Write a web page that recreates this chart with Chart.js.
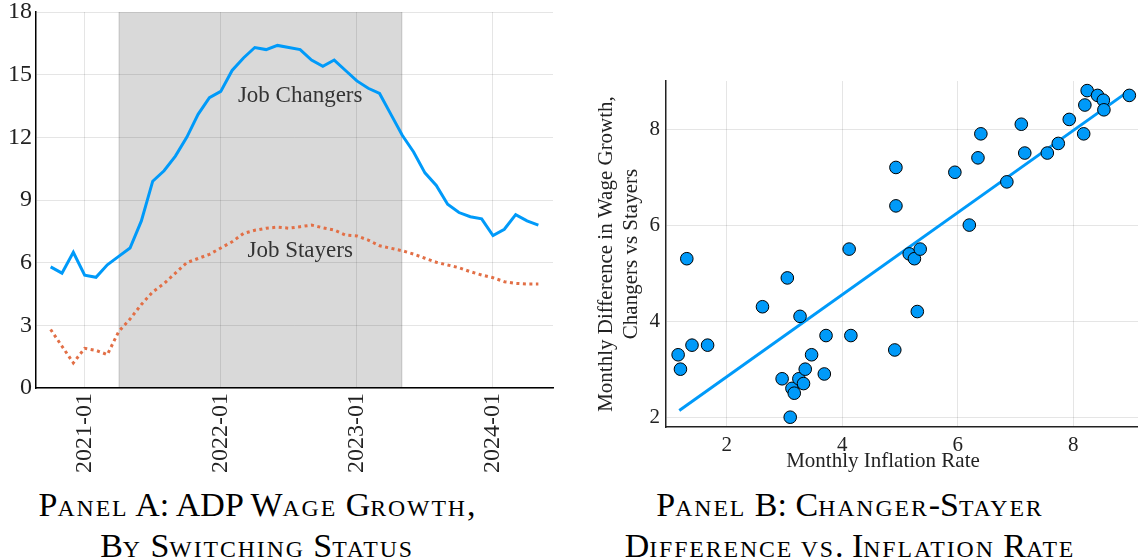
<!DOCTYPE html>
<html><head><meta charset="utf-8">
<script src="https://cdn.jsdelivr.net/npm/chart.js@4.4.1/dist/chart.umd.min.js"></script>
<style>
html,body{margin:0;padding:0;background:#fff;width:1138px;height:560px;overflow:hidden;}
body{position:relative;}
canvas{position:absolute;top:0;}
#cA{left:0;}
#cB{left:580px;}
.cap{position:absolute;font-family:"Liberation Serif",serif;font-size:34px;line-height:38px;text-align:center;color:#000;top:486px;white-space:nowrap;}
.sc{font-size:0.7em;text-transform:uppercase;letter-spacing:1.9px;}
#capA{left:0;width:514px;}
#capB{left:580px;width:540px;}
#xtB{position:absolute;left:683px;width:400px;top:447px;font-family:"Liberation Serif",serif;font-size:21px;line-height:26px;text-align:center;color:#222;white-space:nowrap;}
</style></head>
<body>
<canvas id="cA" width="570" height="480"></canvas>
<canvas id="cB" width="558" height="480"></canvas>
<div id="capA" class="cap">P<span class="sc">anel</span> A: ADP W<span class="sc">age</span> G<span class="sc">rowth</span>,<br>B<span class="sc">y</span> S<span class="sc">witching</span> S<span class="sc">tatus</span></div>
<div id="xtB">Monthly Inflation Rate</div>
<div id="capB" class="cap">P<span class="sc">anel</span> B: C<span class="sc">hanger</span>-S<span class="sc">tayer</span><br>D<span class="sc">ifference vs</span>. I<span class="sc">nflation</span> R<span class="sc">ate</span></div>
<script>
// ---------- Panel A data ----------
const months = ["2020-10","2020-11","2020-12",
 "2021-01","2021-02","2021-03","2021-04","2021-05","2021-06","2021-07","2021-08","2021-09","2021-10","2021-11","2021-12",
 "2022-01","2022-02","2022-03","2022-04","2022-05","2022-06","2022-07","2022-08","2022-09","2022-10","2022-11","2022-12",
 "2023-01","2023-02","2023-03","2023-04","2023-05","2023-06","2023-07","2023-08","2023-09","2023-10","2023-11","2023-12",
 "2024-01","2024-02","2024-03","2024-04","2024-05"];
const jobChangers = [5.8,5.5,6.5,
 5.4,5.3,5.9,6.3,6.7,8.0,9.9,10.4,11.1,12.0,13.1,13.9,
 14.2,15.2,15.8,16.3,16.2,16.4,16.3,16.2,15.7,15.4,15.7,15.2,
 14.7,14.35,14.1,13.1,12.1,11.3,10.3,9.7,8.8,8.4,8.2,8.1,
 7.3,7.6,8.3,8.0,7.8];
const jobStayers = [2.8,2.0,1.2,
 1.9,1.8,1.6,2.7,3.3,4.0,4.6,5.0,5.5,6.0,6.2,6.4,
 6.7,7.0,7.4,7.55,7.65,7.7,7.65,7.72,7.8,7.67,7.56,7.32,
 7.28,7.08,6.81,6.69,6.57,6.41,6.21,6.02,5.89,5.76,5.57,5.41,
 5.28,5.09,5.01,4.98,4.98];
const seriesNames = ["Job Changers","Job Stayers"];
const yTicksA = [0,3,6,9,12,15,18];
const xTickLabelsA = ["2021-01","2022-01","2023-01","2024-01"];
const shadedPeriod = ["2021-04","2023-05"];

// ---------- Panel B data ----------
const inflationRate = [1.16,1.20,1.31,1.40,1.67,2.62,2.96,3.05,3.10,3.13,3.17,3.25,3.27,3.33,3.36,3.47,3.69,3.72,4.12,4.15,
 4.93,4.93,4.91,5.16,5.25,5.35,5.30,5.95,6.20,6.35,6.40,6.85,7.10,7.16,7.55,7.74,7.93,8.18,8.20,8.24,8.42,8.52,8.53,8.97];
const wageDiff = [3.3,3.0,5.3,3.5,3.5,4.3,2.8,4.9,2.0,2.6,2.5,2.8,4.1,2.7,3.0,3.3,2.9,3.7,5.5,3.7,
 7.2,6.4,3.4,5.4,5.3,5.5,4.2,7.1,6.0,7.4,7.9,6.9,8.1,7.5,7.5,7.7,8.2,7.9,8.5,8.8,8.7,8.6,8.4,8.7];
const fitInflation = [1.18, 8.97];
const fitWageDiff = [2.14, 8.80];
const xTicksB = [2,4,6,8];
const yTicksB = [2,4,6,8];
const yTitleB = ["Monthly Difference in Wage Growth,","Changers vs Stayers"];

// ---------- helpers ----------
const monthIndex = s => (parseInt(s.slice(0,4),10)-2021)*12 + parseInt(s.slice(5),10) - 1;
const BLUE = '#009AF9', ORANGE = '#E26F46', GRID = 'rgba(0,0,0,0.1)';
Chart.defaults.font.family = '"Liberation Serif", serif';
Chart.defaults.color = '#222';
const noPadX = (s, h) => { s.height = h; s.paddingLeft = 0; s.paddingRight = 0; s.paddingTop = 0; s.paddingBottom = 0; };
const noPadY = (s, w) => { s.width = w; s.paddingLeft = 0; s.paddingRight = 0; s.paddingTop = 0; s.paddingBottom = 0; };

// ---------- Panel A ----------
const shadePlugin = {
  id: 'shade',
  beforeDatasetsDraw(chart) {
    const {ctx, chartArea:{top,bottom}, scales:{x}} = chart;
    const x1 = x.getPixelForValue(monthIndex(shadedPeriod[0]));
    const x2 = x.getPixelForValue(monthIndex(shadedPeriod[1]));
    ctx.save();
    ctx.fillStyle = 'rgba(0,0,0,0.15)';
    ctx.fillRect(x1, top, x2-x1, bottom-top);
    ctx.strokeStyle = 'rgba(0,0,0,0.12)';
    ctx.lineWidth = 1;
    ctx.beginPath();
    ctx.moveTo(x1+0.5, top); ctx.lineTo(x1+0.5, bottom);
    ctx.moveTo(x2-0.5, top); ctx.lineTo(x2-0.5, bottom);
    ctx.stroke();
    ctx.restore();
  }
};
const seriesLabelAnchors = [["2022-08",14.0],["2022-08",6.55]];
const labelPlugin = {
  id: 'seriesLabels',
  afterDatasetsDraw(chart) {
    const {ctx, scales:{x,y}} = chart;
    ctx.save();
    ctx.font = '23px "Liberation Serif", serif';
    ctx.fillStyle = '#333';
    ctx.textAlign = 'center';
    ctx.textBaseline = 'middle';
    seriesNames.forEach((n,i) => {
      const a = seriesLabelAnchors[i];
      ctx.fillText(n, x.getPixelForValue(monthIndex(a[0])), y.getPixelForValue(a[1]));
    });
    ctx.restore();
  }
};

new Chart(document.getElementById('cA'), {
  type: 'line',
  data: {
    datasets: [
      { label: seriesNames[0], data: months.map((m,i)=>({x:monthIndex(m), y:jobChangers[i]})),
        borderColor: BLUE, borderWidth: 3, pointRadius: 0, tension: 0, fill: false },
      { label: seriesNames[1], data: months.map((m,i)=>({x:monthIndex(m), y:jobStayers[i]})),
        borderColor: ORANGE, borderWidth: 3, borderDash: [3,3.5], borderCapStyle: 'butt', pointRadius: 0, tension: 0, fill: false }
    ]
  },
  options: {
    responsive: false, animation: false,
    layout: { padding: { left: 0, top: 12, right: 17, bottom: 0 }, autoPadding: false },
    plugins: { legend: { display: false }, tooltip: { enabled: false } },
    scales: {
      x: {
        type: 'linear', min: -4.29, max: 41.29,
        afterBuildTicks: s => { s.ticks = xTickLabelsA.map(l => ({value: monthIndex(l)})); },
        afterFit: s => noPadX(s, 92),
        ticks: { autoSkip: false, minRotation: 90, maxRotation: 90, padding: 5,
                 font: { size: 24 }, color: '#222',
                 callback: v => xTickLabelsA[xTickLabelsA.map(monthIndex).indexOf(v)] },
        grid: { color: GRID, drawTicks: false },
        border: { color: '#000', width: 1.5 }
      },
      y: {
        min: 0, max: 18,
        afterBuildTicks: s => { s.ticks = yTicksA.map(v => ({value: v})); },
        afterFit: s => noPadY(s, 36),
        ticks: { padding: 4, font: { size: 24 }, color: '#222' },
        grid: { color: GRID, drawTicks: false },
        border: { color: '#000', width: 1.5 }
      }
    }
  },
  plugins: [shadePlugin, labelPlugin]
});

// ---------- Panel B ----------
new Chart(document.getElementById('cB'), {
  type: 'scatter',
  data: {
    datasets: [
      { label: 'Data', data: inflationRate.map((v,i)=>({x:v, y:wageDiff[i]})),
        backgroundColor: BLUE, borderColor: '#000', borderWidth: 1, pointRadius: 6.3, order: 0 },
      { type: 'line', label: 'Fit', data: fitInflation.map((v,i)=>({x:v, y:fitWageDiff[i]})),
        borderColor: BLUE, borderWidth: 3, pointRadius: 0, showLine: true, fill: false, order: 1 }
    ]
  },
  options: {
    responsive: false, animation: false,
    layout: { padding: { left: 0, top: 81, right: 0, bottom: 0 }, autoPadding: false },
    plugins: { legend: { display: false }, tooltip: { enabled: false } },
    scales: {
      x: {
        type: 'linear', min: 0.95, max: 9.12,
        afterBuildTicks: s => { s.ticks = xTicksB.map(v => ({value: v})); },
        afterFit: s => noPadX(s, 53),
        ticks: { padding: 6, font: { size: 21 }, color: '#222', maxRotation: 0 },
        grid: { color: GRID, drawTicks: false },
        border: { color: '#222', width: 1.5 }
      },
      y: {
        min: 1.796, max: 9.0,
        afterBuildTicks: s => { s.ticks = yTicksB.map(v => ({value: v})); },
        afterFit: s => noPadY(s, 86),
        ticks: { padding: 6, font: { size: 21 }, color: '#222' },
        grid: { color: GRID, drawTicks: false },
        border: { color: '#222', width: 1.5 },
        title: { display: true, text: yTitleB, font: { size: 21, lineHeight: 1.2 }, color: '#222', padding: { top: 13.4, bottom: 0 } }
      }
    }
  }
});
</script>
</body></html>
